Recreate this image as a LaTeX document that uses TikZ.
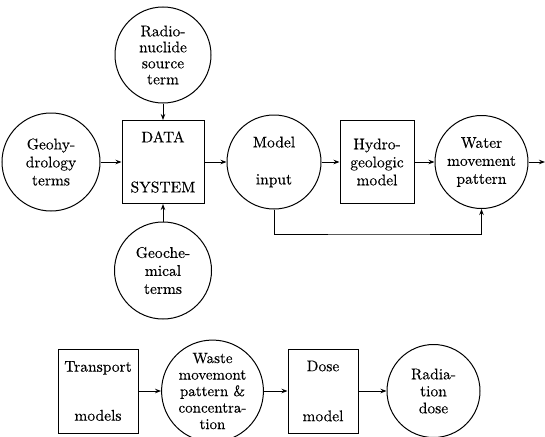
\documentclass[tikz,border=0pt]{standalone}
\usepackage{fontspec}
\setmainfont{lmroman10-regular}[Extension=.otf, FakeBold=0.2]
\usetikzlibrary{arrows.meta}
\begin{document}
\begin{tikzpicture}[x=1pt,y=-1pt,
  every node/.style={font=\fontsize{15.5}{17}\selectfont, align=center, inner sep=0pt},
  circ/.style={draw, circle, line width=1pt},
  boxx/.style={draw, rectangle, line width=1pt},
  arr/.style={line width=1pt, -{Stealth[length=6pt,width=4.5pt]}}]
\useasboundingbox (0,0) rectangle (545,436);
% top row
\node[circ, minimum size=96pt, font=\fontsize{15.5}{16}\selectfont] (radio) at (163,55) {Radio-\\nuclide\\source\\term};
\node[boxx, minimum width=82pt, minimum height=83pt] (data) at (163,162) {DATA\\[33pt]SYSTEM};
\node[circ, minimum size=98pt, font=\fontsize{15.5}{18}\selectfont] (geohyd) at (51,162) {Geohy-\\drology\\terms};
\node[circ, minimum size=97pt, font=\fontsize{15.5}{18}\selectfont] (geochem) at (163,270.5) {Geoche-\\mical\\terms};
\node[circ, minimum size=94pt] (model) at (274,162) {Model\\[20pt]input};
\node[boxx, minimum width=74pt, minimum height=83pt, font=\fontsize{15.5}{18}\selectfont] (hydro) at (377,162) {Hydro-\\geologic\\model};
\node[circ, minimum size=93pt, font=\fontsize{15.5}{18}\selectfont] (water) at (481.5,162) {Water\\movement\\pattern};
\coordinate (edge) at (545,162);
\coordinate (fb) at (380,234);
% bottom row
\node[boxx, minimum width=80pt, minimum height=84pt] (transport) at (98,391) {Transport\\[32pt]models};
\node[circ, minimum size=92pt, font=\fontsize{15}{16.5}\selectfont] (waste) at (212.5,391) {Waste\\movemont\\pattern \&\\concentra-\\tion};
\node[boxx, minimum width=70pt, minimum height=84pt] (dose) at (323,391) {Dose\\[33pt]model};
\node[circ, minimum size=93pt] (rad) at (433.5,391) {Radia-\\tion\\dose};
% connectors
\draw[arr] (radio.south) -- (data.north);
\draw[arr] (geohyd.east) -- (data.west);
\draw[arr] (geochem.north) -- (data.south);
\draw[arr] (data.east) -- (model.west);
\draw[arr] (model.east) -- (hydro.west);
\draw[arr] (hydro.east) -- (water.west);
\draw[arr] (water.east) -- (edge);
\draw[arr] (model.south) |- (fb) -| (water.south);
\draw[arr] (transport.east) -- (waste.west);
\draw[arr] (waste.east) -- (dose.west);
\draw[arr] (dose.east) -- (rad.west);
\end{tikzpicture}
\end{document}
